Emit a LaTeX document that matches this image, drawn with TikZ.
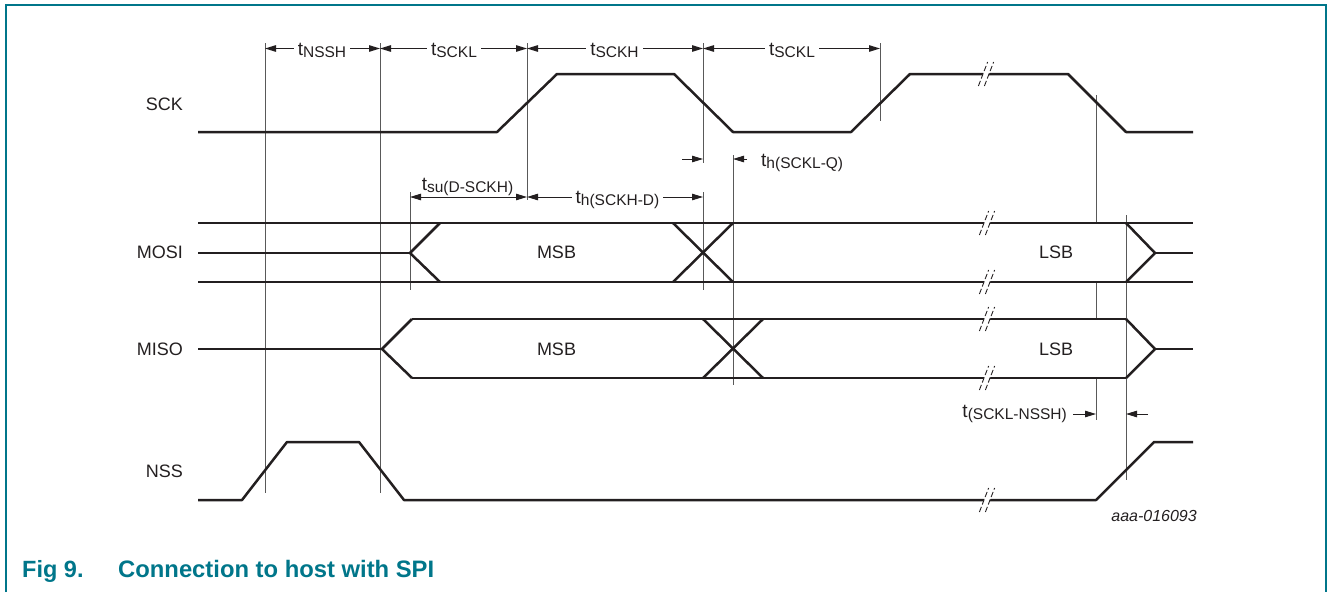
\documentclass[tikz,border=0pt]{standalone}
\usepackage{fontspec}
\setmainfont{Liberation Sans}
\usetikzlibrary{arrows.meta}
\definecolor{nxpteal}{RGB}{0,118,138}
\definecolor{ink}{RGB}{35,31,32}
\newcommand{\tlab}[1]{{\fontsize{19}{20}\selectfont t}\raisebox{-2.5pt}{\fontsize{15.5}{16}\selectfont #1}}
\newcommand{\brkmark}[2]{%
  \fill[white] ({#1-3-1.6},{#2+4}) -- ({#1+3-1.6},{#2+4}) -- ({#1+3+1.6},{#2-4}) -- ({#1-3+1.6},{#2-4}) -- cycle;
  \draw[brkline] ({#1-3-4.6},{#2+12}) -- ({#1-3+4.6},{#2-12});
  \draw[brkline] ({#1+3-4.6},{#2+12}) -- ({#1+3+4.6},{#2-12});}
\begin{document}
\begin{tikzpicture}[x=1pt,y=-1pt,
  sig/.style={line width=2.5pt, draw=ink, line join=round},
  guide/.style={line width=1pt, draw=black!65},
  dimline/.style={line width=1pt, draw=ink},
  tipboth/.style={{Triangle[length=11pt,width=6.5pt]}-{Triangle[length=11pt,width=6.5pt]}},
  tipend/.style={-{Triangle[length=11pt,width=6.5pt]}},
  brkline/.style={line width=0.9pt, draw=ink, dash pattern=on 5.5pt off 2.5pt},
  lbl/.style={font=\fontsize{18}{20}\selectfont, text=ink, inner sep=0pt},
  gap/.style={fill=white, inner xsep=4pt, inner ysep=1pt}]
\useasboundingbox (0,0) rectangle (1328,592);
% frame
\draw[nxpteal, line width=2pt] (5.5,592) -- (5.5,4.5) -- (1326,4.5) -- (1326,592);
% guide lines
\draw[guide] (265,43) -- (265,493);
\draw[guide] (380,43) -- (380,493);
\draw[guide] (527,43) -- (527,200);
\draw[guide] (703,43) -- (703,163);
\draw[guide] (703,192) -- (703,290);
\draw[guide] (880,43) -- (880,121);
\draw[guide] (410,192) -- (410,290);
\draw[guide] (733,155) -- (733,385);
\draw[guide] (1096,95) -- (1096,223);
\draw[guide] (1096,282) -- (1096,319);
\draw[guide] (1096,378) -- (1096,420);
\draw[guide] (1126,215) -- (1126,480);
% SCK
\draw[sig] (198,132) -- (497,132) -- (557,74) -- (674,74) -- (733,132) -- (851,132) -- (910,74) -- (1068,74) -- (1126,132) -- (1193,132);
% MOSI
\draw[sig] (198,223) -- (1193,223);
\draw[sig] (198,282) -- (1193,282);
\draw[sig] (198,253) -- (410,253);
\draw[sig] (440,223) -- (410,253) -- (440,282);
\draw[sig] (673,223) -- (733,282);
\draw[sig] (673,282) -- (733,223);
\draw[sig] (1126,223) -- (1155,253) -- (1126,282);
\draw[sig] (1155,253) -- (1193,253);
% MISO
\draw[sig] (198,349) -- (382,349);
\draw[sig] (412,319) -- (382,349) -- (412,378);
\draw[sig] (412,319) -- (1126,319);
\draw[sig] (412,378) -- (1126,378);
\draw[sig] (703,319) -- (763,378);
\draw[sig] (703,378) -- (763,319);
\draw[sig] (1126,319) -- (1155,349) -- (1126,378);
\draw[sig] (1155,349) -- (1193,349);
% NSS
\draw[sig] (198,500) -- (242,500) -- (287,442) -- (359,442) -- (404,500) -- (1096,500) -- (1154,442) -- (1193,442);
% break marks
\brkmark{986}{74}
\brkmark{987}{223}
\brkmark{987}{282}
\brkmark{987}{319}
\brkmark{987}{378}
\brkmark{987}{500}
% dimension arrows
\draw[dimline,tipboth] (265,48.5) -- (380,48.5);
\draw[dimline,tipboth] (380,48.5) -- (527,48.5);
\draw[dimline,tipboth] (527,48.5) -- (703,48.5);
\draw[dimline,tipboth] (703,48.5) -- (880,48.5);
\node[lbl,gap,anchor=base] (tnssh) at (322,55) {\tlab{NSSH}};
\node[lbl,gap,anchor=base] (tsckl1) at (454,55) {\tlab{SCKL}};
\node[lbl,gap,anchor=base] (tsckh) at (614.5,55) {\tlab{SCKH}};
\node[lbl,gap,anchor=base] (tsckl2) at (792,55) {\tlab{SCKL}};
\draw[dimline,tipboth] (410,197) -- (527,197);
\draw[dimline,tipboth] (527,197) -- (703,197);
\node[lbl,anchor=base] (tsu) at (467.5,190) {\tlab{su(D-SCKH)}};
\node[lbl,gap,anchor=base] (thd) at (617.5,203) {\tlab{h(SCKH-D)}};
\draw[dimline,tipend] (682,159) -- (703,159);
\draw[dimline,tipend] (747,159) -- (733,159);
\node[lbl,anchor=base west] (thq) at (761,166) {\tlab{h(SCKL-Q)}};
\draw[dimline,tipend] (1073,414) -- (1096,414);
\draw[dimline,tipend] (1148,414) -- (1126,414);
\node[lbl,anchor=base east] (tnsh) at (1067,417) {\tlab{(SCKL-NSSH)}};
% signal names
\node[lbl,anchor=base east] (nsck) at (183,110) {SCK};
\node[lbl,anchor=base east] (nmosi) at (183,258.5) {MOSI};
\node[lbl,anchor=base east] (nmiso) at (183,355.5) {MISO};
\node[lbl,anchor=base east] (nnss) at (183,477.5) {NSS};
% data labels
\node[lbl,anchor=base] (msb1) at (556.5,258.5) {MSB};
\node[lbl,anchor=base] (msb2) at (556.5,355.5) {MSB};
\node[lbl,anchor=base] (lsb1) at (1056,258.5) {LSB};
\node[lbl,anchor=base] (lsb2) at (1056,355.5) {LSB};
% id
\node[lbl,anchor=base east,font=\fontsize{16}{18}\selectfont\itshape] (aaa) at (1197,521.7) {aaa-016093};
% caption
\node[anchor=base west,inner sep=0pt,text=nxpteal,font=\fontsize{23.5}{26}\selectfont\bfseries] (fig) at (22,577) {Fig 9.};
\node[anchor=base west,inner sep=0pt,text=nxpteal,font=\fontsize{23.8}{26}\selectfont\bfseries] (cap) at (118,577) {Connection to host with SPI};
\end{tikzpicture}
\end{document}
